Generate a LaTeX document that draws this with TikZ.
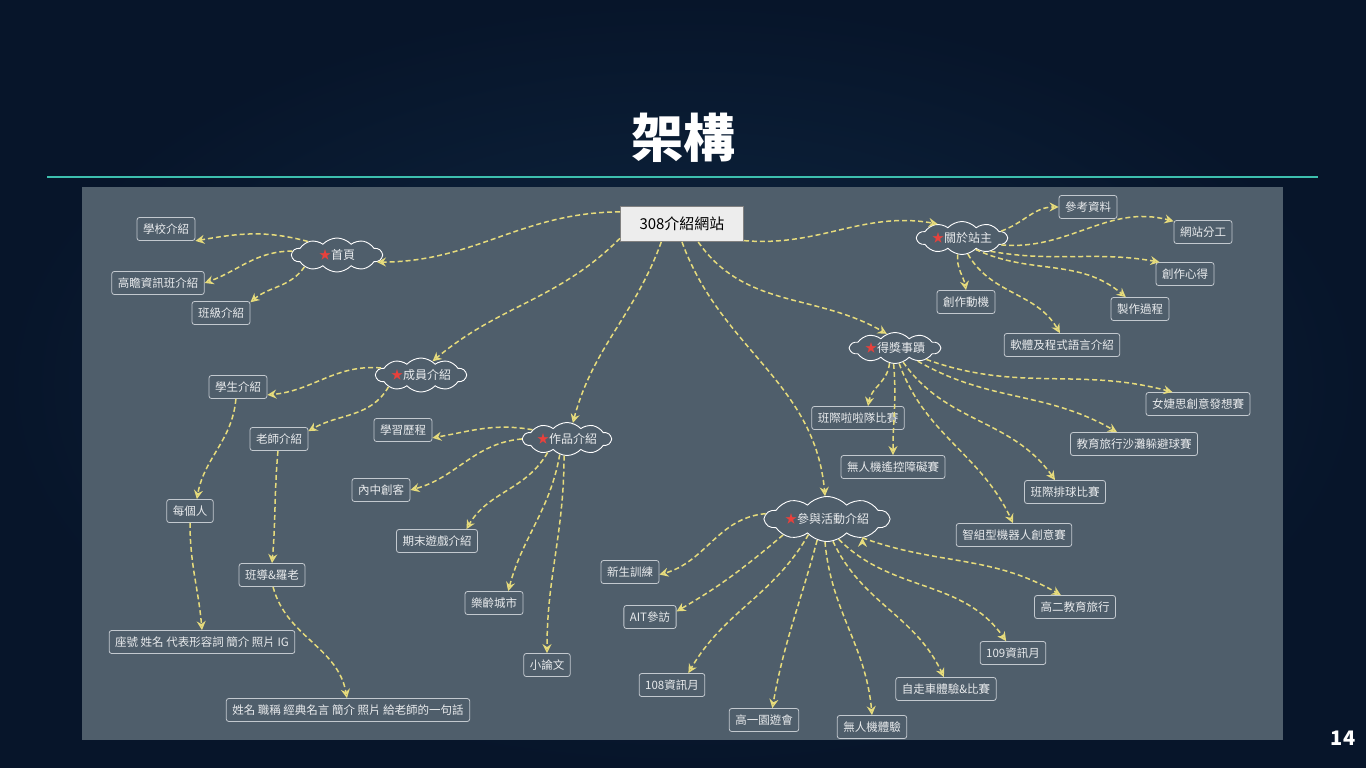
\documentclass[tikz,border=0pt]{standalone}
\usepackage{fontspec}
\setmainfont{Noto Sans CJK TC}
\usetikzlibrary{shapes.symbols,arrows.meta}

\definecolor{bgdark}{HTML}{07152A}
\definecolor{bglight}{HTML}{0F2843}
\definecolor{panel}{HTML}{4F5E6B}
\definecolor{rulecol}{HTML}{3DBFAE}
\definecolor{linkcol}{HTML}{E6DB7C}
\definecolor{leafline}{HTML}{C3C9CF}
\definecolor{leaftext}{HTML}{E9EBED}
\definecolor{starred}{HTML}{E8413C}

\tikzset{
  topic/.style={cloud, cloud puffs=10, cloud puff arc=95, cloud ignores aspect, draw=white,
    line width=0.9pt, text=leaftext, font=\fontsize{12}{14}\selectfont, inner sep=1pt},
  leaf/.style={draw=leafline, rounded corners=2.5pt, line width=0.8pt, text=leaftext,
    font=\fontsize{11.5}{13}\selectfont, minimum height=23pt, inner xsep=6pt, inner ysep=0pt},
  link/.style={draw=linkcol, dash pattern=on 5pt off 3pt, line width=1.5pt,
    -{Stealth[length=9pt,width=9pt,inset=3pt]}},
}
\newcommand{\hot}{{\color{starred}★}}

\begin{document}
\begin{tikzpicture}[x=1pt,y=1pt]
\useasboundingbox (0,0) rectangle (1366,-768);
\shade[inner color=bglight, outer color=bgdark] (0,0) rectangle (1366,-768);
\node[text=white, font=\fontsize{52}{60}\selectfont\bfseries] (title) at (683,-138) {架構};
\draw[rulecol, line width=2pt] (47,-177) -- (1318,-177);
\fill[panel] (82,-187) rectangle (1283,-740);
\node[text=white, font=\fontsize{20}{24}\selectfont\bfseries] (page) at (1343,-738) {14};

% center
\node[draw=gray, fill=white!93!black, line width=1pt, minimum width=123pt, minimum height=35pt,
  font=\fontsize{15}{18}\selectfont] (root) at (682,-224) {308介紹網站};

% topics
\node[topic, minimum width=90pt, minimum height=34pt] (home) at (337,-255) {\hot 首頁};
\node[topic, minimum width=90pt, minimum height=34pt] (member) at (421,-375) {\hot 成員介紹};
\node[topic, minimum width=88pt, minimum height=33pt] (works) at (567,-439) {\hot 作品介紹};
\node[topic, minimum width=90pt, minimum height=33pt] (about) at (962,-238) {\hot 關於站主};
\node[topic, minimum width=90pt, minimum height=31pt] (awards) at (895,-348) {\hot 得獎事蹟};
\node[topic, minimum width=124pt, minimum height=45pt] (activity) at (827,-519) {\hot 參與活動介紹};

% home
\node[leaf] (school) at (166,-229) {學校介紹};
\node[leaf] (gifted) at (158,-283) {高瞻資訊班介紹};
\node[leaf] (myclass) at (221,-313) {班級介紹};

% member
\node[leaf] (student) at (238,-387) {學生介紹};
\node[leaf] (teacher) at (279,-439) {老師介紹};
\node[leaf] (each) at (190,-511) {每個人};
\node[leaf] (tutor) at (272,-575) {班導\&羅老};
\node[leaf] (seat) at (202,-642) {座號 姓名 代表形容詞 簡介 照片 IG};
\node[leaf] (quote) at (348,-710) {姓名 職稱 經典名言 簡介 照片 給老師的一句話};

% works
\node[leaf] (portfolio) at (403,-430) {學習歷程};
\node[leaf] (maker) at (381,-490) {內中創客};
\node[leaf] (game) at (437,-541) {期末遊戲介紹};
\node[leaf] (city) at (494,-603) {樂齡城市};
\node[leaf] (essay) at (547,-665) {小論文};

% about
\node[leaf] (refs) at (1088,-207) {參考資料};
\node[leaf] (division) at (1203,-232) {網站分工};
\node[leaf] (reflect) at (1185,-274) {創作心得};
\node[leaf] (process) at (1140,-309) {製作過程};
\node[leaf] (motive) at (966,-302) {創作動機};
\node[leaf] (software) at (1062,-345) {軟體及程式語言介紹};

% awards
\node[leaf] (women) at (1198,-404) {女婕思創意發想賽};
\node[leaf] (dodge) at (1134,-444) {教育旅行沙灘躲避球賽};
\node[leaf] (volley) at (1065,-492) {班際排球比賽};
\node[leaf] (robot) at (1014,-535) {智組型機器人創意賽};
\node[leaf] (cheer) at (858,-418) {班際啦啦隊比賽};
\node[leaf] (drone) at (893,-467) {無人機遙控障礙賽};

% activity
\node[leaf] (fresh) at (630,-572) {新生訓練};
\node[leaf] (ait) at (650,-617) {AIT參訪};
\node[leaf] (m108) at (672,-685) {108資訊月};
\node[leaf] (fair) at (764,-720) {高一園遊會};
\node[leaf] (dronex) at (872,-727) {無人機體驗};
\node[leaf] (car) at (946,-689) {自走車體驗\&比賽};
\node[leaf] (m109) at (1013,-653) {109資訊月};
\node[leaf] (trip) at (1075,-607) {高二教育旅行};

\path[link]
(root.169) edge[out=180,in=0] (home.-10)
(root.193) edge[out=225,in=40] (member.50)
(root.221) edge[out=250,in=75] (works.70)
(root.270) edge[out=290,in=95] (activity.95)
(root.312) edge[out=-55,in=150] (awards.120)
(root.345) edge[out=-5,in=170] (about.150)
(home.155) edge[out=165,in=10] (school.south east)
(home.175) edge[out=180,in=20] (gifted.east)
(home.200) edge[out=235,in=40] (myclass.20)
(member.170) edge[out=175,in=5] (student.-15)
(member.200) edge[out=240,in=30] (teacher.15)
(student.260) edge[out=265,in=80] (each.60)
(each.south) edge[out=270,in=95] (seat.north)
(teacher.265) edge[out=265,in=85] (tutor.north)
(tutor.275) edge[out=285,in=100] (quote.95)
(works.165) edge[out=170,in=10] (portfolio.-15)
(works.180) edge[out=185,in=15] (maker.east)
(works.215) edge[out=240,in=60] (game.22)
(works.245) edge[out=260,in=75] (city.40)
(works.260) edge[out=270,in=90] (essay.north)
(about.10) edge[out=20,in=180] (refs.west)
(about.-10) edge[out=-5,in=165] (division.160)
(about.-25) edge[out=-10,in=170] (reflect.155)
(about.-40) edge[out=-25,in=140] (process.140)
(about.255) edge[out=265,in=100] (motive.north)
(about.-70) edge[out=-60,in=120] (software.100)
(awards.250) edge[out=265,in=80] (cheer.50)
(awards.265) edge[out=275,in=90] (drone.north)
(awards.285) edge[out=-70,in=115] (robot.95)
(awards.300) edge[out=-55,in=125] (volley.130)
(awards.-30) edge[out=-30,in=150] (dodge.145)
(awards.-20) edge[out=-20,in=165] (women.155)
(activity.175) edge[out=185,in=15] (fresh.-5)
(activity.200) edge[out=220,in=30] (ait.12)
(activity.220) edge[out=240,in=60] (m108.36)
(activity.245) edge[out=255,in=80] (fair.55)
(activity.265) edge[out=275,in=95] (dronex.north)
(activity.285) edge[out=-65,in=115] (car.100)
(activity.300) edge[out=-45,in=125] (m109.120)
(activity.-28) edge[out=-20,in=150] (trip.140);
\end{tikzpicture}
\end{document}
